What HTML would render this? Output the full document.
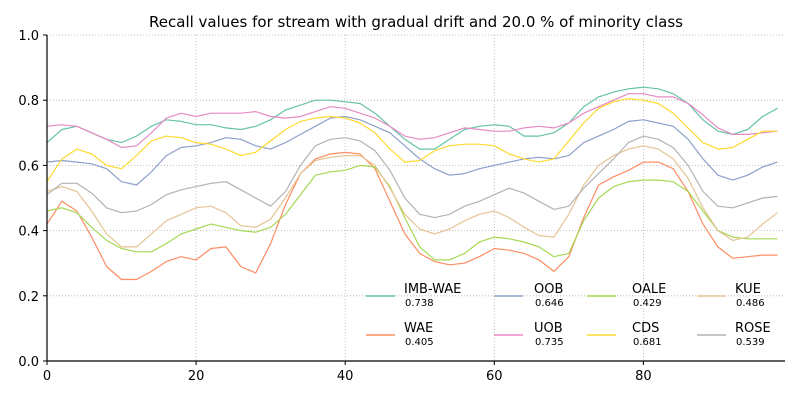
<!DOCTYPE html>
<html><head><meta charset="utf-8"><style>
body{margin:0;background:#fff;font-family:"Liberation Sans","DejaVu Sans",sans-serif}
svg text{font-family:"DejaVu Sans","Liberation Sans",sans-serif}
</style></head><body>
<svg id="chart" width="800" height="400" xmlns="http://www.w3.org/2000/svg">
<text x="416" y="27" text-anchor="middle" font-size="15">Recall values for stream with gradual drift and 20.0 % of minority class</text>
<g id="grid"></g><g id="series"></g><g id="axes"></g><g id="legend"></g>
</svg>
<script>
const xValues=[0,2,4,6,8,10,12,14,16,18,20,22,24,26,28,30,32,34,36,38,40,42,44,46,48,50,52,54,56,58,60,62,64,66,68,70,72,74,76,78,80,82,84,86,88,90,92,94,96,98];
const seriesNames=["IMB-WAE","WAE","OOB","UOB","OALE","CDS","KUE","ROSE"];
const seriesMeans=["0.738","0.405","0.646","0.735","0.429","0.681","0.486","0.539"];
const seriesColors=["#66c2a5","#fc8d62","#8da0cb","#e78ac3","#a6d854","#ffd92f","#e5c494","#b3b3b3"];
const imbWae=[0.67,0.71,0.72,0.70,0.68,0.67,0.69,0.72,0.74,0.735,0.725,0.725,0.715,0.71,0.72,0.74,0.77,0.785,0.80,0.80,0.795,0.79,0.76,0.72,0.68,0.65,0.65,0.68,0.71,0.72,0.725,0.72,0.69,0.69,0.70,0.73,0.78,0.81,0.825,0.835,0.84,0.835,0.82,0.79,0.74,0.705,0.695,0.71,0.75,0.775];
const wae=[0.42,0.49,0.46,0.38,0.29,0.25,0.25,0.275,0.305,0.32,0.31,0.345,0.35,0.29,0.27,0.36,0.48,0.575,0.62,0.635,0.64,0.635,0.59,0.49,0.39,0.33,0.305,0.295,0.30,0.32,0.345,0.34,0.33,0.31,0.275,0.32,0.44,0.54,0.565,0.585,0.61,0.61,0.59,0.52,0.42,0.35,0.315,0.32,0.325,0.325];
const oob=[0.61,0.615,0.61,0.605,0.59,0.55,0.54,0.58,0.63,0.655,0.66,0.67,0.685,0.68,0.66,0.65,0.67,0.695,0.72,0.745,0.75,0.74,0.72,0.70,0.66,0.62,0.59,0.57,0.575,0.59,0.60,0.61,0.62,0.625,0.62,0.63,0.67,0.69,0.71,0.735,0.74,0.73,0.72,0.68,0.62,0.57,0.555,0.57,0.595,0.61];
const uob=[0.72,0.725,0.72,0.70,0.68,0.655,0.66,0.70,0.745,0.76,0.75,0.76,0.76,0.76,0.765,0.75,0.745,0.75,0.765,0.78,0.775,0.76,0.745,0.72,0.69,0.68,0.685,0.70,0.715,0.71,0.705,0.705,0.715,0.72,0.715,0.73,0.76,0.78,0.80,0.82,0.82,0.81,0.81,0.79,0.755,0.715,0.695,0.695,0.70,0.705];
const oale=[0.46,0.47,0.455,0.41,0.37,0.345,0.335,0.335,0.36,0.39,0.405,0.42,0.41,0.40,0.395,0.41,0.45,0.51,0.57,0.58,0.585,0.60,0.595,0.535,0.44,0.35,0.31,0.31,0.33,0.365,0.38,0.375,0.365,0.35,0.32,0.33,0.43,0.50,0.535,0.55,0.555,0.555,0.55,0.52,0.46,0.40,0.38,0.375,0.375,0.375];
const cds=[0.55,0.62,0.65,0.635,0.60,0.59,0.63,0.675,0.69,0.685,0.67,0.665,0.65,0.63,0.64,0.675,0.71,0.735,0.745,0.75,0.745,0.73,0.70,0.65,0.61,0.615,0.645,0.66,0.665,0.665,0.66,0.635,0.62,0.61,0.62,0.675,0.73,0.775,0.795,0.805,0.80,0.79,0.76,0.715,0.67,0.65,0.655,0.68,0.705,0.705];
const kue=[0.52,0.535,0.52,0.46,0.39,0.35,0.35,0.39,0.43,0.45,0.47,0.475,0.455,0.415,0.41,0.435,0.50,0.575,0.615,0.625,0.63,0.63,0.60,0.53,0.45,0.405,0.39,0.405,0.43,0.45,0.46,0.44,0.41,0.385,0.38,0.45,0.54,0.60,0.63,0.65,0.66,0.65,0.62,0.56,0.47,0.40,0.37,0.38,0.42,0.455];
const rose=[0.51,0.545,0.545,0.515,0.47,0.455,0.46,0.48,0.51,0.525,0.535,0.545,0.55,0.525,0.50,0.475,0.52,0.60,0.66,0.68,0.685,0.675,0.645,0.585,0.50,0.45,0.44,0.45,0.475,0.49,0.51,0.53,0.515,0.49,0.465,0.475,0.53,0.575,0.62,0.67,0.69,0.68,0.655,0.60,0.52,0.475,0.47,0.485,0.50,0.505];
const xTicks=[0,20,40,60,80];
const yTicks=[0.0,0.2,0.4,0.6,0.8,1.0];
const allSeries=[imbWae,wae,oob,uob,oale,cds,kue,rose];

const NS="http://www.w3.org/2000/svg";
const X0=47,X1=785,Y0=361,Y1=35;
function sx(v){return X0+(v-0)/(99-0)*(X1-X0);}
function sy(v){return Y0-(v-0)/(1-0)*(Y0-Y1);}
function mk(tag,attrs,parent,txt){const e=document.createElementNS(NS,tag);for(const k in attrs)e.setAttribute(k,attrs[k]);if(txt!==undefined)e.textContent=txt;parent.appendChild(e);return e;}
const grid=document.getElementById('grid'),axes=document.getElementById('axes'),ser=document.getElementById('series'),leg=document.getElementById('legend');
xTicks.forEach(t=>{
  const g=mk('line',{x1:sx(t),x2:sx(t),y1:Y1,y2:Y0,stroke:'#b0b0b0','stroke-dasharray':'1,2','stroke-width':0.8},grid);
  
  
  const tk=mk('line',{x1:sx(t),x2:sx(t),y1:Y0,y2:Y0+4,stroke:'#000'},axes);
  
  
  const lb=mk('text',{x:sx(t),y:Y0+19,'text-anchor':'middle','font-size':13},axes,String(t));
  
  
});
yTicks.forEach(t=>{
  const g=mk('line',{x1:X0,x2:X1,y1:sy(t),y2:sy(t),stroke:'#b0b0b0','stroke-dasharray':'1,2','stroke-width':0.8},grid);
  
  
  const tk=mk('line',{x1:X0-4,x2:X0,y1:sy(t),y2:sy(t),stroke:'#000'},axes);
  
  
  const lb=mk('text',{x:X0-8,y:sy(t)+5,'text-anchor':'end','font-size':13},axes,t.toFixed(1));
  
  
});
const ya=mk('line',{x1:X0,x2:X0,y1:Y1,y2:Y0,stroke:'#000','stroke-width':1.2},axes);


const xa=mk('line',{x1:X0,x2:X1,y1:Y0,y2:Y0,stroke:'#000','stroke-width':1.2},axes);


allSeries.forEach((vals,i)=>{
  const pts=vals.map((v,j)=>sx(xValues[j]).toFixed(1)+','+sy(v).toFixed(1)).join(' ');
  const p=mk('polyline',{points:pts,fill:'none',stroke:seriesColors[i],'stroke-width':1.2,'stroke-linejoin':'round'},ser);
  
  
});
const colL=[366,494,587,697],colT=[404,534,632,735];
seriesNames.forEach((n,i)=>{
  const col=Math.floor(i/2),row=i%2;
  const yy=296+row*39;
  const g=mk('g',{},leg);
  
  
  mk('line',{x1:colL[col],x2:colL[col]+29,y1:yy,y2:yy,stroke:seriesColors[i],'stroke-width':1.5},g);
  mk('text',{x:colT[col],y:yy-3,'font-size':13},g,n);
  mk('text',{x:colT[col]+1,y:yy+10,'font-size':10},g,seriesMeans[i]);
});
</script>
</body></html>
